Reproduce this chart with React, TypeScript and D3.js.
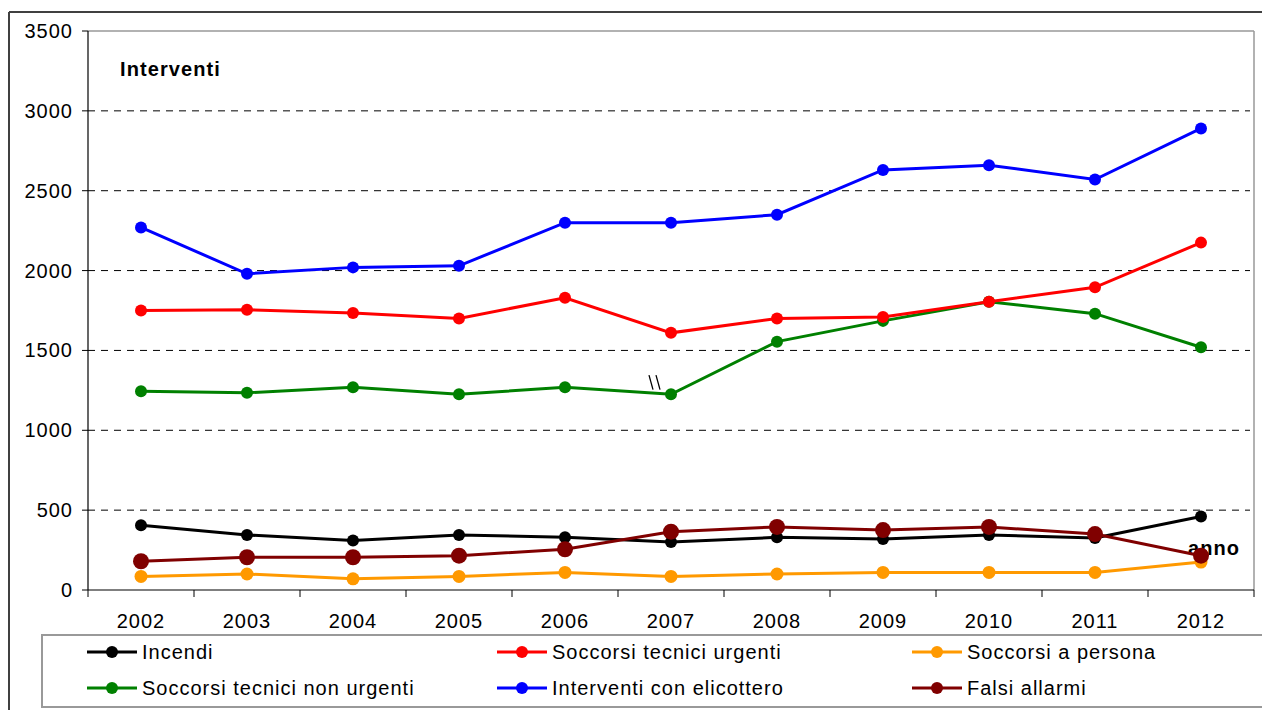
import React from "react";
import * as d3 from "d3";

const years = ["2002","2003","2004","2005","2006","2007","2008","2009","2010","2011","2012"];
const incendi = [405,345,310,345,330,300,330,320,345,325,460];
const stUrgenti = [1750,1755,1735,1700,1830,1610,1700,1710,1805,1895,2175];
const soccorsiPersona = [85,100,70,85,110,85,100,110,110,110,175];
const stNonUrgenti = [1245,1235,1270,1225,1270,1225,1555,1685,1805,1730,1520];
const elicottero = [2270,1980,2020,2030,2300,2300,2350,2630,2660,2570,2890];
const falsiAllarmi = [180,205,205,215,255,365,395,375,395,350,215];
const yTicks = [0,500,1000,1500,2000,2500,3000,3500];

const series = [
  { name: "Soccorsi tecnici non urgenti", values: stNonUrgenti, color: "#008000", r: 6 },
  { name: "Interventi con elicottero", values: elicottero, color: "#0000FF", r: 6 },
  { name: "Soccorsi tecnici urgenti", values: stUrgenti, color: "#FF0000", r: 6 },
  { name: "Soccorsi a persona", values: soccorsiPersona, color: "#FF9900", r: 6.5 },
  { name: "Incendi", values: incendi, color: "#000000", r: 6 },
  { name: "Falsi allarmi", values: falsiAllarmi, color: "#800000", r: 8 },
];

const legendItems = [
  { name: "Incendi", color: "#000000", col: 0, row: 0 },
  { name: "Soccorsi tecnici urgenti", color: "#FF0000", col: 1, row: 0 },
  { name: "Soccorsi a persona", color: "#FF9900", col: 2, row: 0 },
  { name: "Soccorsi tecnici non urgenti", color: "#008000", col: 0, row: 1 },
  { name: "Interventi con elicottero", color: "#0000FF", col: 1, row: 1 },
  { name: "Falsi allarmi", color: "#800000", col: 2, row: 1 },
];

export default function App() {
  const W = 1262, H = 710;
  const left = 88, right = 1254, top = 31, bottom = 590;
  const x = d3.scaleBand<string>().domain(years).range([left, right]);
  const y = d3.scaleLinear().domain([0, 3500]).range([bottom, top]);
  const cx = (yr: string) => (x(yr) as number) + x.bandwidth() / 2;
  const line = d3.line<number>().x((_, i) => cx(years[i])).y(v => y(v));
  const font = "'Liberation Sans', Arial, sans-serif";
  const legX = [87, 497, 912];
  const legY = [652, 688];
  const brkX = cx("2007") - 18;
  const fs = 20;
  const ls = 1.0;

  return (
    <svg width={W} height={H} style={{ position: "absolute", left: 0, top: 0 }} fontFamily={font}>
      <rect x={0} y={0} width={W} height={H} fill="#fff" />
      {/* outer frame */}
      <line x1={9} y1={12} x2={W} y2={12} stroke="#404040" strokeWidth={2} />
      <line x1={9} y1={12} x2={9} y2={H} stroke="#404040" strokeWidth={2} />
      {/* plot border */}
      <line x1={left} y1={top} x2={right} y2={top} stroke="#999" strokeWidth={1.5} />
      <line x1={right} y1={top} x2={right} y2={bottom} stroke="#999" strokeWidth={1.5} />
      {/* grid */}
      {yTicks.filter(t => t > 0 && t < 3500).map(t => (
        <line key={t} x1={left} x2={right - 4} y1={y(t)} y2={y(t)} stroke="#000" strokeDasharray="7,6" strokeWidth={1} />
      ))}
      {/* y axis */}
      <line x1={left} y1={top} x2={left} y2={bottom} stroke="#000" strokeWidth={1.2} />
      {yTicks.map(t => (
        <g key={t}>
          <line x1={left - 6} x2={left} y1={y(t)} y2={y(t)} stroke="#000" />
          <text x={73} y={y(t)} dy="0.35em" textAnchor="end" fontSize={fs} letterSpacing={ls}>{t}</text>
        </g>
      ))}
      {/* x axis */}
      <line x1={left} y1={bottom} x2={right} y2={bottom} stroke="#000" strokeWidth={1.2} />
      {years.map(yr => (
        <line key={"t" + yr} x1={x(yr) as number} x2={x(yr) as number} y1={bottom} y2={bottom + 7} stroke="#000" />
      ))}
      <line x1={right} x2={right} y1={bottom} y2={bottom + 7} stroke="#000" />
      {years.map(yr => (
        <text key={yr} x={cx(yr)} y={628} textAnchor="middle" fontSize={fs} letterSpacing={ls}>{yr}</text>
      ))}
      {/* labels */}
      <text x={120} y={76} fontSize={fs} fontWeight="bold" letterSpacing={1.1}>Interventi</text>
      <text x={1188} y={555} fontSize={fs} fontWeight="bold" letterSpacing={1.1}>anno</text>
      {/* series */}
      {series.map(s => (
        <g key={s.name}>
          <path d={line(s.values) as string} fill="none" stroke={s.color} strokeWidth={3} />
          {s.values.map((v, i) => (
            <circle key={i} cx={cx(years[i])} cy={y(v)} r={s.r} fill={s.color} />
          ))}
        </g>
      ))}
      {/* break mark */}
      <line x1={brkX - 4} y1={y(1345)} x2={brkX} y2={y(1255)} stroke="#000" strokeWidth={1.3} />
      <line x1={brkX + 3} y1={y(1345)} x2={brkX + 7} y2={y(1255)} stroke="#000" strokeWidth={1.3} />
      {/* legend */}
      <rect x={42} y={635} width={1230} height={72} fill="#fff" stroke="#999" strokeWidth={2} />
      {legendItems.map(l => (
        <g key={l.name}>
          <line x1={legX[l.col]} x2={legX[l.col] + 50} y1={legY[l.row]} y2={legY[l.row]} stroke={l.color} strokeWidth={3} />
          <circle cx={legX[l.col] + 25} cy={legY[l.row]} r={6} fill={l.color} />
          <text x={legX[l.col] + 55} y={legY[l.row]} dy="0.35em" fontSize={fs} letterSpacing={ls}>{l.name}</text>
        </g>
      ))}
    </svg>
  );
}
